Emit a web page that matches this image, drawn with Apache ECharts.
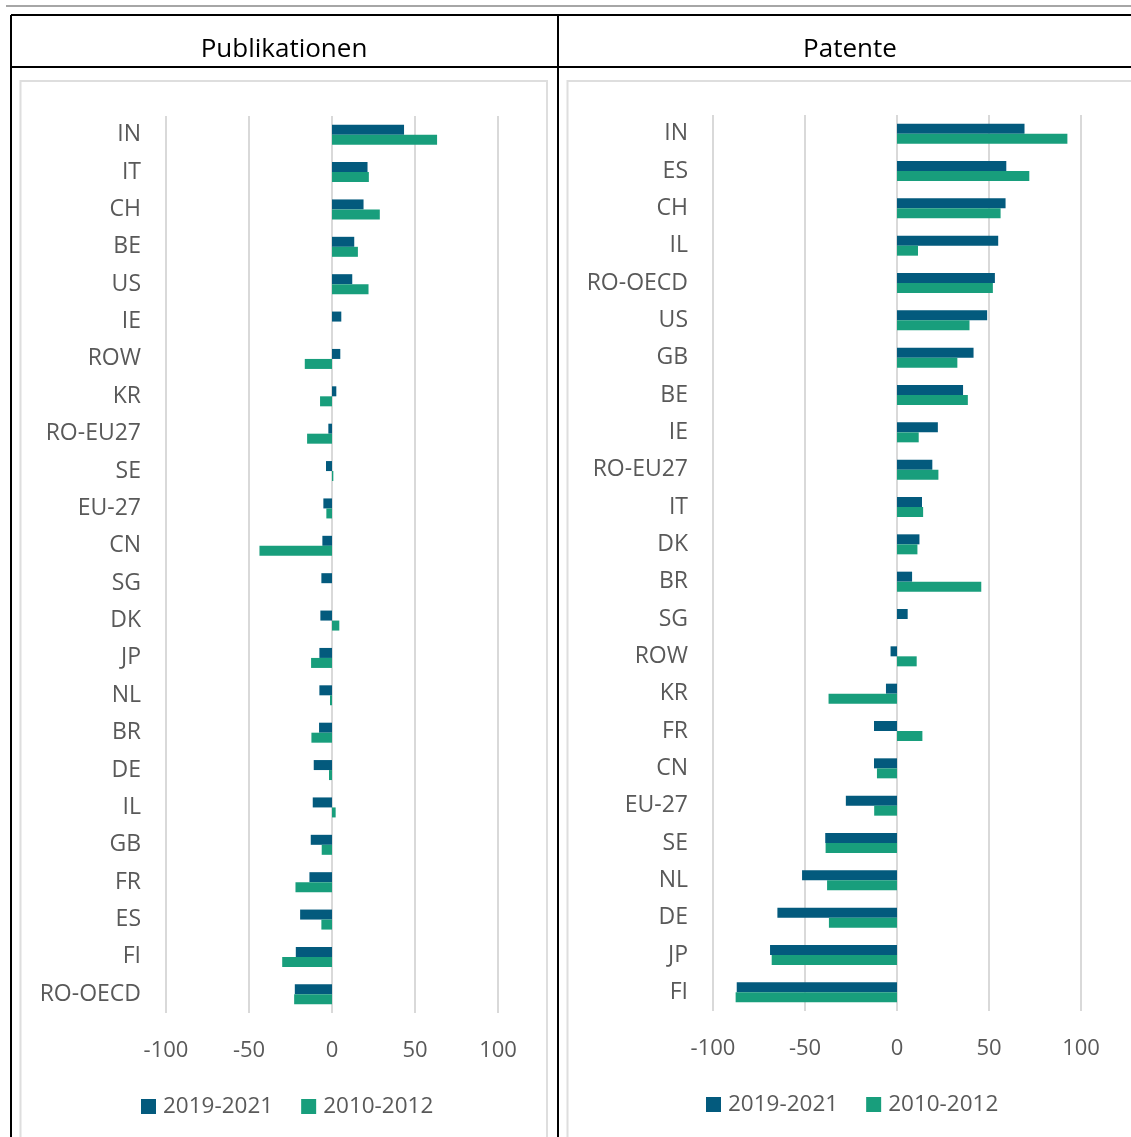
<!DOCTYPE html>
<html>
<head>
<meta charset="utf-8">
<script src="https://cdn.jsdelivr.net/npm/echarts@6/dist/echarts.min.js"></script>
<style>
  html, body {margin: 0; padding: 0; background: #fff;}
  #main {width: 1131px; height: 1137px;}
</style>
</head>
<body>
<div id="main"></div>
<script>
// Publikationen (links)
var pubLaender = ['IN', 'IT', 'CH', 'BE', 'US', 'IE', 'ROW', 'KR', 'RO-EU27', 'SE', 'EU-27', 'CN',
  'SG', 'DK', 'JP', 'NL', 'BR', 'DE', 'IL', 'GB', 'FR', 'ES', 'FI', 'RO-OECD'];
var pub2019 = [43.4, 21.4, 19, 13.4, 12.2, 5.6, 5, 2.6, -2.2, -3.6, -5.2, -5.8,
  -6.4, -7, -7.6, -7.6, -7.8, -11, -11.6, -12.8, -13.6, -19.2, -21.8, -22.4];
var pub2010 = [63.3, 22.2, 28.8, 15.6, 22, 0, -16.4, -7.2, -15, 0.8, -3.4, -43.7,
  0, 4.4, -12.6, -1.2, -12.4, -1.8, 2.2, -6.2, -22, -6.4, -30, -22.8];

// Patente (rechts)
var patLaender = ['IN', 'ES', 'CH', 'IL', 'RO-OECD', 'US', 'GB', 'BE', 'IE', 'RO-EU27', 'IT', 'DK',
  'BR', 'SG', 'ROW', 'KR', 'FR', 'CN', 'EU-27', 'SE', 'NL', 'DE', 'JP', 'FI'];
var pat2019 = [69.3, 59.4, 59, 55, 53.2, 49, 41.6, 35.9, 22.2, 19.2, 13.6, 12.2,
  8.2, 5.8, -3.5, -6, -12.5, -12.5, -27.8, -39, -51.6, -65, -69, -87.1];
var pat2010 = [92.6, 71.9, 56.3, 11.4, 52.1, 39.4, 32.8, 38.5, 11.8, 22.5, 14.2, 11.1,
  45.8, 0, 10.7, -37.2, 13.8, -10.9, -12.4, -38.8, -38, -37, -68.1, -87.7];

var ticks = [-100, -50, 0, 50, 100];
var zeitraeume = ['2019-2021', '2010-2012'];
var farben = ['#035a7d', '#189e7c'];

var font = '"Open Sans", "Noto Sans", sans-serif';
var grau = '#595959';

var myChart = echarts.init(document.getElementById('main'));

function xAchse(gridIndex) {
  return {
    type: 'value',
    gridIndex: gridIndex,
    min: ticks[0],
    max: ticks[ticks.length - 1],
    interval: 50,
    axisLine: {show: false},
    axisTick: {show: false},
    splitLine: {lineStyle: {color: '#d9d9d9', width: 2}},
    axisLabel: {color: grau, fontSize: 22, fontFamily: font, margin: 27}
  };
}

function yAchse(gridIndex, daten) {
  return {
    type: 'category',
    gridIndex: gridIndex,
    inverse: true, // erstes Land oben
    data: daten,
    axisLine: {show: false},
    axisTick: {show: false},
    axisLabel: {color: grau, fontSize: 23, fontFamily: font, margin: 25, padding: [8, 0, 0, 0]}
  };
}

function balken(name, idx, werte, farbe) {
  return {
    name: name,
    type: 'bar',
    xAxisIndex: idx,
    yAxisIndex: idx,
    data: werte,
    barWidth: 10,
    barGap: '0%',
    itemStyle: {color: farbe},
    animation: false
  };
}

function legende(links, oben) {
  return {
    data: zeitraeume,
    left: links,
    top: oben,
    padding: 0,
    icon: 'rect',
    itemWidth: 15,
    itemHeight: 15,
    itemGap: 28,
    textStyle: {color: grau, fontSize: 22.5, fontFamily: font, padding: [0, 0, 0, 2]}
  };
}

// Tabellenrahmen und Kopfzeile
var linie = function (x1, y1, x2, y2, farbe, breite) {
  return {type: 'line', shape: {x1: x1, y1: y1, x2: x2, y2: y2}, style: {stroke: farbe, lineWidth: breite}, silent: true};
};

myChart.setOption({
  color: farben,
  animation: false,
  textStyle: {fontFamily: font},
  graphic: [
    linie(6, 6, 1131, 6, '#a6a6a6', 2),
    linie(11, 15, 1131, 15, '#000', 2),
    linie(11, 67, 1131, 67, '#000', 2),
    linie(11, 15, 11, 1137, '#000', 2),
    linie(558, 15, 558, 1137, '#000', 2),
    {type: 'rect', shape: {x: 20.5, y: 81, width: 526.5, height: 1100}, style: {fill: null, stroke: '#dedede', lineWidth: 2}, silent: true},
    {type: 'rect', shape: {x: 567.5, y: 81, width: 600, height: 1100}, style: {fill: null, stroke: '#dedede', lineWidth: 2}, silent: true},
    {type: 'text', x: 284, y: 50, style: {text: 'Publikationen', fill: '#000', font: '26px ' + font, textAlign: 'center', textVerticalAlign: 'middle'}},
    {type: 'text', x: 850, y: 50, style: {text: 'Patente', fill: '#000', font: '26px ' + font, textAlign: 'center', textVerticalAlign: 'middle'}}
  ],
  grid: [
    {left: 166, top: 116, width: 332, height: 897},
    {left: 713, top: 115, width: 368, height: 896}
  ],
  xAxis: [xAchse(0), xAchse(1)],
  yAxis: [yAchse(0, pubLaender), yAchse(1, patLaender)],
  legend: [legende(141, 1095), legende(706, 1093)],
  series: [
    balken(zeitraeume[0], 0, pub2019, farben[0]),
    balken(zeitraeume[1], 0, pub2010, farben[1]),
    balken(zeitraeume[0], 1, pat2019, farben[0]),
    balken(zeitraeume[1], 1, pat2010, farben[1])
  ]
});
</script>
</body>
</html>
